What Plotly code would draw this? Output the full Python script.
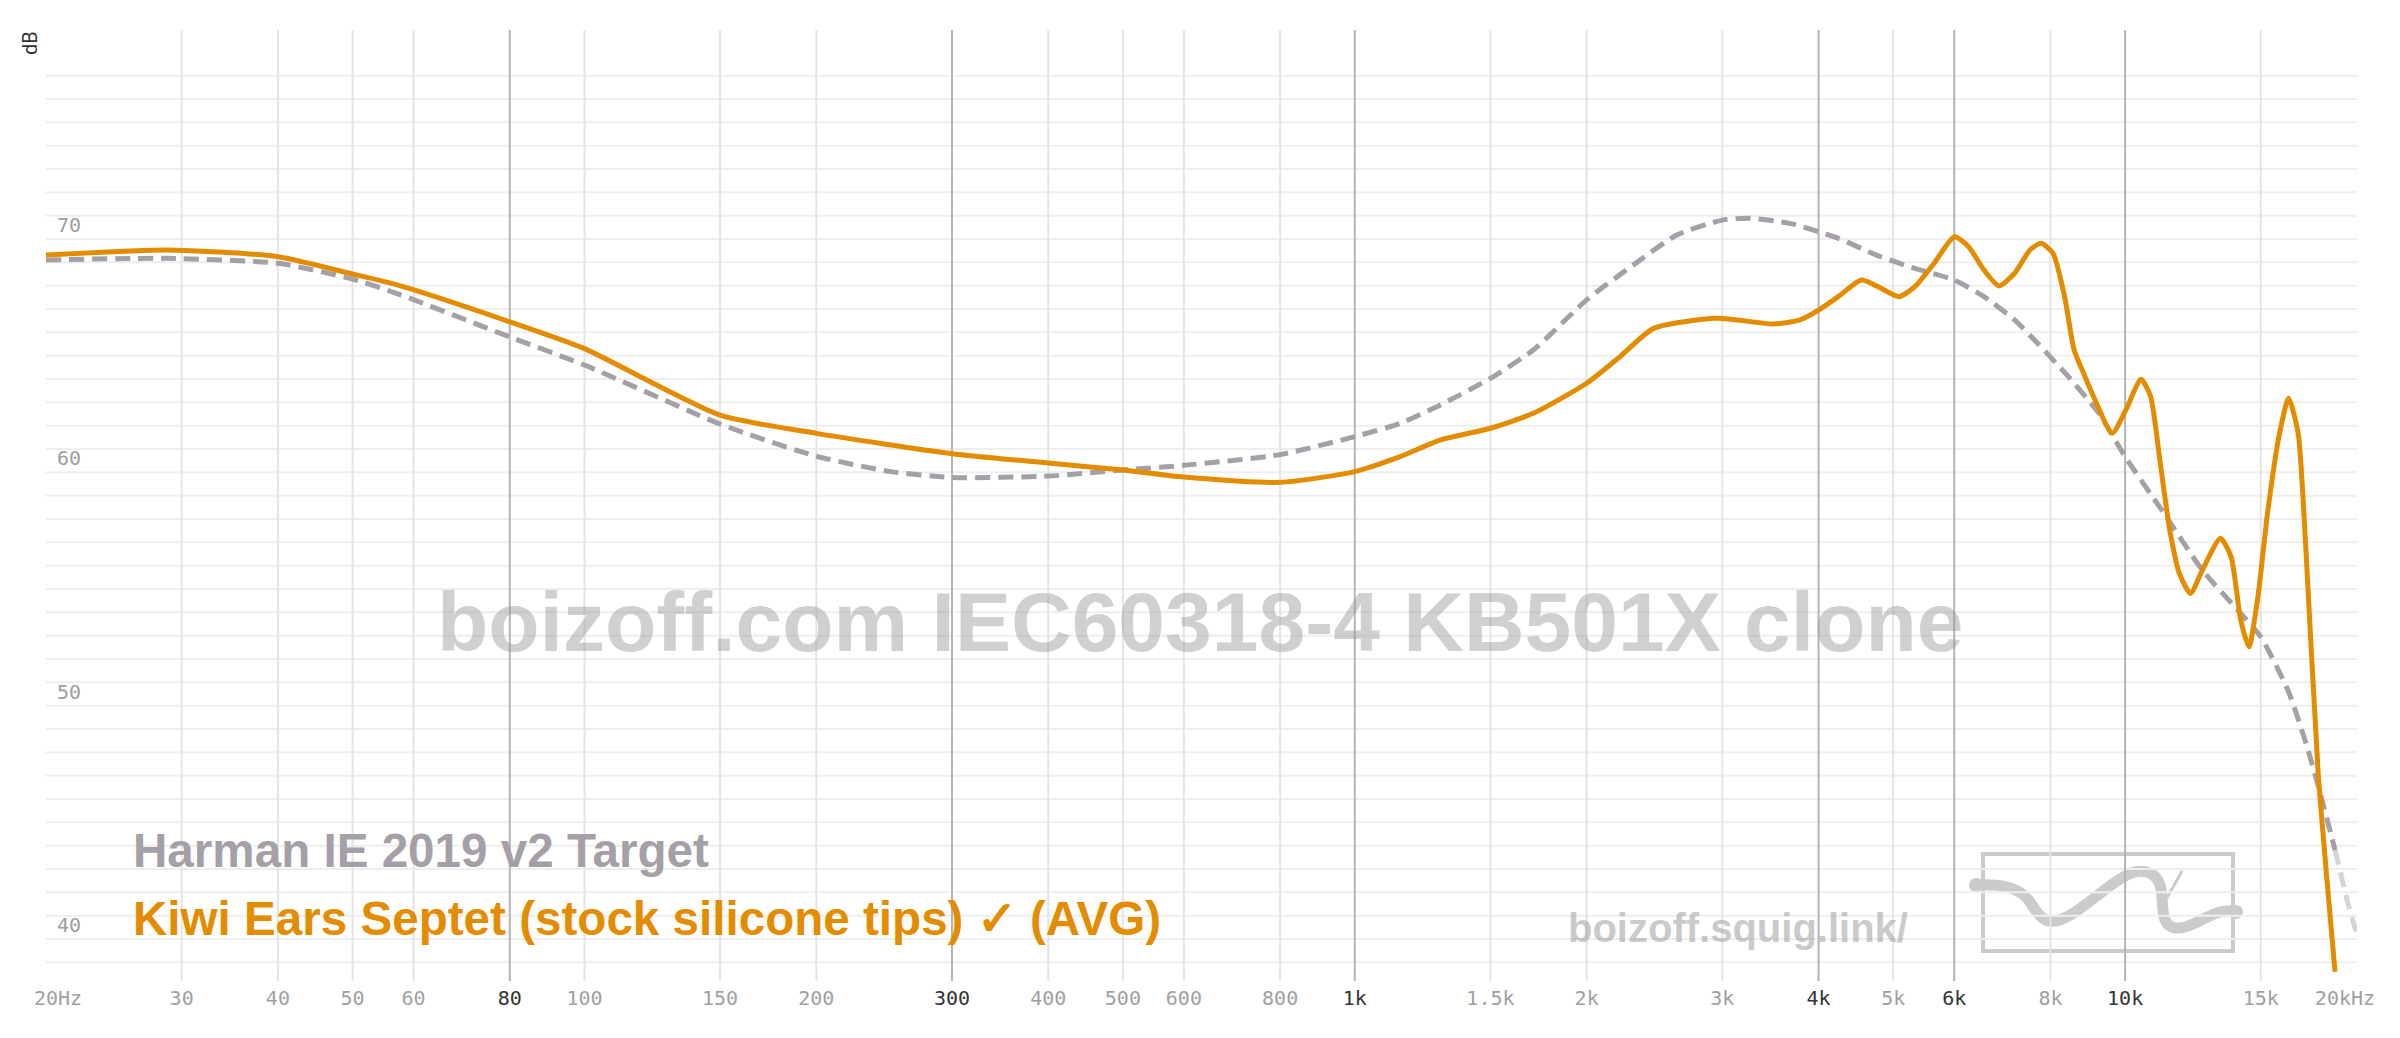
import math
import plotly.graph_objects as go

# ---------------- data ----------------
target_name = "Harman IE 2019 v2 Target"
target_freq = [20, 28.7, 40, 50, 57.6, 80, 100, 150, 200, 250, 300, 400, 500, 600, 800,
               1000, 1145, 1290, 1500, 1705, 2000, 2300, 2618, 3000, 3260, 3672, 4000,
               4243, 4757, 5335, 6004, 6558, 7187, 7698, 8440, 9247, 10000, 11233, 12597,
               14128, 15000, 16300, 17278, 18018, 18728, 19414, 20000]
target_db = [69.10, 69.17, 68.96, 68.28, 67.62, 65.80, 64.60, 62.07, 60.69, 60.03, 59.78,
             59.84, 60.10, 60.30, 60.76, 61.53, 62.10, 62.88, 64.03, 65.24, 67.39, 68.89,
             70.17, 70.81, 70.89, 70.67, 70.31, 70.03, 69.31, 68.74, 68.24, 67.53, 66.53,
             65.53, 64.10, 62.53, 60.67, 58.24, 55.81, 53.96, 52.95, 50.60, 48.10, 45.95,
             43.81, 41.67, 40.17]

iem_name = "Kiwi Ears Septet (stock silicone tips) \u2713 (AVG)"
iem_freq = [20, 28.7, 40, 50, 57.6, 80, 100, 150, 200, 300, 400, 500, 600, 800, 1000,
            1145, 1290, 1500, 1705, 2000, 2210, 2443, 2950, 3494, 3785, 4000, 4243, 4546,
            4757, 5085, 5335, 5650, 6004, 6264, 6558, 6860, 7187, 7524, 7776, 8061, 8345,
            8587, 8834, 9141, 9620, 10020, 10488, 10793, 11108, 11428, 11760, 12160, 12597,
            13300, 13726, 14128, 14480, 14874, 15306, 15837, 16300, 16775, 17160, 17810,
            18730]
iem_db = [69.31, 69.53, 69.24, 68.50, 68.00, 66.45, 65.30, 62.45, 61.67, 60.80, 60.40,
          60.10, 59.80, 59.57, 60.03, 60.67, 61.38, 61.89, 62.53, 63.82, 64.96, 66.17,
          66.60, 66.36, 66.53, 66.95, 67.53, 68.24, 67.99, 67.53, 67.96, 68.96, 70.10,
          69.67, 68.67, 67.99, 68.53, 69.53, 69.82, 69.39, 67.53, 65.24, 64.24, 63.10,
          61.67, 62.67, 63.99, 63.25, 60.39, 57.53, 55.67, 54.81, 55.81, 57.17, 56.39,
          53.67, 52.52, 54.67, 58.24, 61.53, 63.17, 61.67, 56.81, 47.10, 38.60]

x_tick_vals = [20, 30, 40, 50, 60, 80, 100, 150, 200, 300, 400, 500, 600, 800, 1000, 1500,
               2000, 3000, 4000, 5000, 6000, 8000, 10000, 15000, 20000]
x_tick_text = ["20Hz", "30", "40", "50", "60", "80", "100", "150", "200", "300", "400", "500",
               "600", "800", "1k", "1.5k", "2k", "3k", "4k", "5k", "6k", "8k", "10k", "15k",
               "20kHz"]
x_major = [80, 300, 1000, 4000, 6000, 10000]
x_minor = [30, 40, 50, 60, 100, 150, 200, 400, 500, 600, 800, 1500, 2000, 3000, 5000, 8000, 15000]
y_tick_vals = [40, 50, 60, 70]
y_grid = list(range(39, 78))

# ---------------- styling ----------------
ORANGE = "#e38c00"
TGRAY = "#a59fa8"
L, R, T, B = 46, 2357, 30, 981
W, H = R - L, B - T


def px(x):
    return (x - L) / W


def py(y):
    return (B - y) / H


ticktext = []
for v, t in zip(x_tick_vals, x_tick_text):
    s = "<span style='color:#333333'>%s</span>" % t if v in x_major else t
    if v == 20:
        s = "\u00a0\u00a0" + s
    if v == 20000:
        s = s + "\u00a0\u00a0"
    ticktext.append(s)

fig = go.Figure()
n_fade = 3  # last points of the target fade out
fig.add_trace(go.Scatter(x=target_freq[:-n_fade + 1], y=target_db[:-n_fade + 1], mode="lines",
                         name=target_name,
                         line=dict(color=TGRAY, width=5, dash="15px,8px", shape="spline", smoothing=0.6),
                         hoverinfo="skip"))
fig.add_trace(go.Scatter(x=target_freq[-n_fade:], y=target_db[-n_fade:], mode="lines",
                         name=target_name, showlegend=False,
                         line=dict(color="rgba(165,159,168,0.45)", width=5, dash="15px,8px"),
                         hoverinfo="skip"))
fig.add_trace(go.Scatter(x=iem_freq, y=iem_db, mode="lines", name=iem_name,
                         line=dict(color=ORANGE, width=5, shape="spline", smoothing=0.6),
                         hoverinfo="skip"))

shapes = []
# logo (drawn first so grid lines pass over it)
LOGO = "#cbcbcb"
shapes.append(dict(type="rect", xref="paper", yref="paper", layer="below",
                   x0=px(1983), x1=px(2233), y0=py(951), y1=py(854),
                   line=dict(color=LOGO, width=4)))
curve = [("M", [(1975, 885)]),
         ("C", [(1995, 884), (2020, 884), (2032, 905)]),
         ("C", [(2040, 918), (2045, 922), (2055, 921)]),
         ("C", [(2075, 918), (2100, 890), (2125, 876)]),
         ("C", [(2140, 868), (2155, 870), (2160, 885)]),
         ("C", [(2165, 900), (2158, 925), (2175, 928)]),
         ("C", [(2195, 930), (2215, 905), (2237, 912)])]
path = " ".join(c + " " + " ".join("%.5f,%.5f" % (px(a), py(b)) for a, b in pts) for c, pts in curve)
shapes.append(dict(type="path", xref="paper", yref="paper", layer="below", path=path,
                   line=dict(color=LOGO, width=11)))
tick = "M %.5f,%.5f L %.5f,%.5f" % (px(2167), py(898), px(2182), py(871))
shapes.append(dict(type="path", xref="paper", yref="paper", layer="below", path=tick,
                   line=dict(color=LOGO, width=3)))
for cx, cy in [(1976, 885), (2236, 912)]:
    shapes.append(dict(type="circle", xref="paper", yref="paper", layer="below",
                       x0=px(cx - 7), x1=px(cx + 7), y0=py(cy + 7), y1=py(cy - 7),
                       fillcolor=LOGO, line=dict(width=0)))

for d in y_grid:
    shapes.append(dict(type="line", xref="paper", yref="y", layer="below",
                       x0=0, x1=1, y0=d, y1=d, line=dict(color="#eeeeee", width=2)))
for f in x_minor:
    shapes.append(dict(type="line", xref="x", yref="paper", layer="below",
                       x0=f, x1=f, y0=0, y1=1, line=dict(color="#e4e4e4", width=2)))
for f in x_major:
    shapes.append(dict(type="line", xref="x", yref="paper", layer="below",
                       x0=f, x1=f, y0=0, y1=1, line=dict(color="#b4b4b4", width=2)))

SANS = "Liberation Sans, Arial, sans-serif"
annotations = [
    dict(text="dB", x=px(30), y=py(43), xref="paper", yref="paper", showarrow=False,
         textangle=-90, xanchor="center", yanchor="middle",
         font=dict(family="Roboto, sans-serif", size=20, color="#333333")),
    dict(text="boizoff.com IEC60318-4 KB501X clone", x=px(1200), y=py(622), xref="paper",
         yref="paper", showarrow=False, xanchor="center", yanchor="middle",
         font=dict(family=SANS, size=84, weight="bold", color="rgba(150,150,150,0.45)")),
    dict(text="boizoff.squig.link/", x=px(1566), y=py(928), xref="paper", yref="paper",
         showarrow=False, xanchor="left", yanchor="middle",
         font=dict(family=SANS, size=40, weight="bold", color="rgba(150,150,150,0.5)")),
    dict(text=target_name, x=px(131), y=py(850), xref="paper", yref="paper", showarrow=False,
         xanchor="left", yanchor="middle",
         font=dict(family=SANS, size=47.6, weight="bold", color=TGRAY)),
    dict(text=iem_name, x=px(131), y=py(918), xref="paper", yref="paper", showarrow=False,
         xanchor="left", yanchor="middle",
         font=dict(family=SANS, size=47.6, weight="bold", color=ORANGE)),
]

eps = 1e-6
fig.update_layout(
    width=2400, height=1038,
    margin=dict(l=L, r=2400 - R, t=T, b=1038 - B, autoexpand=False),
    paper_bgcolor="white", plot_bgcolor="white",
    showlegend=False,
    shapes=shapes,
    annotations=annotations,
    xaxis=dict(type="log", range=[math.log10(20) - eps, math.log10(20000) + eps],
               showgrid=False, zeroline=False, showline=False, ticks="",
               tickvals=x_tick_vals, ticktext=ticktext, ticklabelstandoff=3,
               ticklabeloverflow="allow",
               tickfont=dict(family="DejaVu Sans Mono, monospace", size=20, color="#a0a0a0"),
               automargin=False),
    yaxis=dict(range=[38.2, 78.957], showgrid=False, zeroline=False, showline=False,
               ticks="", tickvals=y_tick_vals, ticktext=[str(v) for v in y_tick_vals],
               ticklabelposition="outside top", ticklabelstandoff=-36,
               ticklabeloverflow="allow",
               tickfont=dict(family="DejaVu Sans Mono, monospace", size=20, color="#9e9e9e"),
               automargin=False),
)

fig.write_html("out.html", config={"displayModeBar": False},
               post_script="document.body.style.margin='0';"
                           "document.body.style.overflow='hidden';")
